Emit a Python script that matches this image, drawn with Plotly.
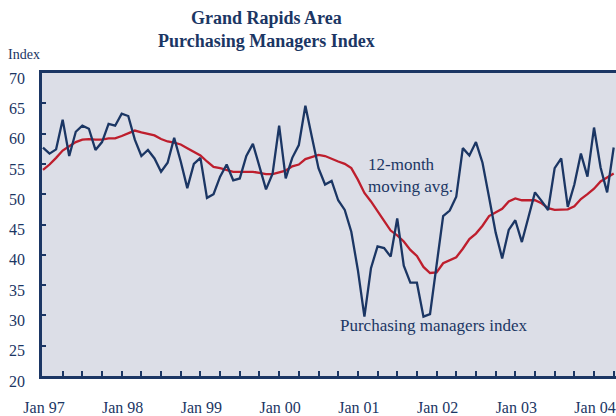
import plotly.graph_objects as go

# Monthly data, Jan 1997 - Apr 2004
pmi = [
    57.7, 56.7, 57.4, 62.3, 56.3, 60.3, 61.3, 60.8, 57.3, 58.6, 61.6, 61.3,   # 1997
    63.3, 62.9, 59.0, 56.3, 57.3, 55.9, 53.7, 55.2, 59.3, 55.4, 51.0, 55.0,   # 1998
    56.0, 49.4, 50.0, 52.9, 54.9, 52.3, 52.6, 56.3, 58.3, 54.4, 50.8, 53.4,   # 1999
    61.3, 52.6, 56.0, 58.1, 64.6, 59.4, 54.3, 51.6, 52.2, 49.0, 47.4, 43.8,   # 2000
    37.5, 29.8, 37.8, 41.4, 41.1, 39.7, 46.0, 38.2, 35.4, 35.4, 29.8, 30.2,   # 2001
    38.3, 46.4, 47.3, 49.6, 57.6, 56.4, 58.6, 55.2, 49.5, 43.7, 39.4, 44.1,   # 2002
    45.7, 42.1, 46.2, 50.3, 48.9, 47.4, 54.3, 55.9, 47.9, 51.6, 56.7, 52.9,   # 2003
    61.0, 54.4, 50.3, 57.7,                                                   # 2004
]
mov_avg = [
    54.0, 54.9, 56.0, 57.2, 57.9, 58.6, 59.0, 59.1, 59.0, 59.0, 59.2, 59.2,
    59.6, 60.1, 60.5, 60.2, 60.0, 59.7, 59.1, 58.7, 58.5, 58.2, 57.6, 57.0,
    56.4, 55.4, 54.5, 54.3, 54.0, 53.7, 53.7, 53.7, 53.7, 53.5, 53.3, 53.3,
    53.6, 53.9, 54.6, 54.9, 55.8, 56.2, 56.5, 56.3, 55.8, 55.4, 55.0, 54.3,
    52.4, 50.2, 48.8, 47.1, 45.6, 44.0, 43.2, 42.2, 40.8, 39.8, 38.0, 37.0,
    37.1, 38.6, 39.1, 39.6, 41.0, 42.6, 43.5, 44.8, 46.4, 47.0, 47.6, 48.8,
    49.3, 49.0, 49.0, 49.0, 48.5, 47.7, 47.4, 47.4, 47.5, 48.0, 49.2, 50.0,
    50.9, 52.1, 52.7, 53.4,
]
year_labels = ["Jan 97", "Jan 98", "Jan 99", "Jan 00", "Jan 01", "Jan 02", "Jan 03", "Jan 04"]
y_ticks = [20, 25, 30, 35, 40, 45, 50, 55, 60, 65, 70]

months = list(range(len(pmi)))
NAVY = "#1B3664"
RED = "#BE1E2D"
FONT = "Liberation Serif"

quarter_vals = list(range(0, 90, 3))
quarter_text = [year_labels[q // 12] if q % 12 == 0 and q // 12 < len(year_labels) else "" for q in quarter_vals]

fig = go.Figure()
fig.add_trace(go.Scatter(x=months, y=mov_avg, mode="lines",
                         line=dict(color=RED, width=2.3), hoverinfo="skip"))
fig.add_trace(go.Scatter(x=months, y=pmi, mode="lines",
                         line=dict(color=NAVY, width=2.3), hoverinfo="skip"))

fig.update_layout(
    width=616, height=416,
    margin=dict(l=42, r=0, t=73, b=40),
    paper_bgcolor="white",
    plot_bgcolor="#DCDEE7",
    showlegend=False,
    font=dict(family=FONT, color=NAVY, size=16),
    xaxis=dict(range=[-0.15, 87.35], tickmode="array", tickvals=quarter_vals,
               ticktext=quarter_text, ticks="inside", ticklen=5, tickwidth=1.5,
               tickcolor=NAVY, showline=True, linecolor=NAVY, linewidth=2.5,
               mirror=True, showgrid=False, zeroline=False,
               tickfont=dict(family=FONT, size=16, color=NAVY),
               ticklabelstandoff=15, ticklabelshift=1, ticklabeloverflow="allow"),
    yaxis=dict(range=[20, 70], tickmode="array", tickvals=y_ticks,
               ticks="inside", ticklen=4, tickwidth=1.5, tickcolor=NAVY,
               showline=True, linecolor=NAVY, linewidth=2.5, showgrid=False,
               zeroline=False, tickfont=dict(family=FONT, size=16, color=NAVY),
               ticklabelstandoff=11, ticklabelshift=5),
)

fig.add_annotation(text="<b>Grand Rapids Area<br>Purchasing Managers Index</b>",
                   xref="paper", yref="paper", x=(266 - 42) / 574, y=(376 - 6) / 303,
                   xanchor="center", yanchor="top", showarrow=False,
                   font=dict(family=FONT, size=18, color=NAVY))
fig.add_annotation(text="Index", xref="paper", yref="paper",
                   x=(6 - 42) / 574, y=(376 - 54) / 303, xanchor="left", yanchor="middle",
                   showarrow=False, font=dict(family=FONT, size=14, color=NAVY))
fig.add_annotation(text="12-month<br>moving avg.", x=49.2, y=56.8, xanchor="left", yanchor="top",
                   align="left", showarrow=False, font=dict(family=FONT, size=17, color=NAVY))
fig.add_annotation(text="Purchasing managers index", x=45.0, y=30.3, xanchor="left", yanchor="top",
                   showarrow=False, font=dict(family=FONT, size=17, color=NAVY))

fig.write_html("out.html", config={"displayModeBar": False},
               post_script="document.body.style.margin='0';document.body.style.overflow='hidden';")
